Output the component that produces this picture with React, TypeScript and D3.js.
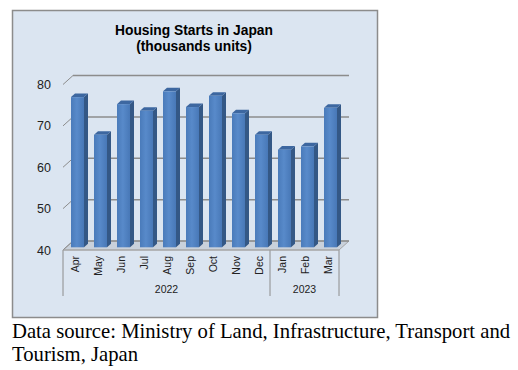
import { useEffect, useRef } from "react"
import * as d3 from "d3"

const months = ["Apr", "May", "Jun", "Jul", "Aug", "Sep", "Oct", "Nov", "Dec", "Jan", "Feb", "Mar"]
const values = [76.3, 67.2, 74.6, 73.0, 77.7, 73.9, 76.6, 72.4, 67.2, 63.6, 64.4, 73.7]
const years = [
  { label: "2022", from: "Apr", to: "Dec" },
  { label: "2023", from: "Jan", to: "Mar" },
]
const yTicks = [40, 50, 60, 70, 80]
const title = ["Housing Starts in Japan", "(thousands units)"]
const caption = ["Data source: Ministry of Land, Infrastructure, Transport and", "Tourism, Japan"]

export default function App() {
  const svgRef = useRef<SVGSVGElement>(null)

  useEffect(() => {
    if (!svgRef.current) return
    const svg = d3.select(svgRef.current)
    svg.selectAll("*").remove()

    const DX = 10
    const DY = -9
    const frontT = 0.3
    const backT = 0.7

    // frame
    svg.append("rect")
      .attr("x", 12.5).attr("y", 10.5)
      .attr("width", 365).attr("height", 307)
      .attr("fill", "#dbe5f1")
      .attr("stroke", "#8c8c8c")
      .attr("stroke-width", 1.5)

    // title
    svg.append("text")
      .attr("x", 194).attr("y", 35)
      .attr("text-anchor", "middle")
      .attr("font-family", "Arial, 'Liberation Sans', sans-serif")
      .attr("font-weight", "bold")
      .attr("font-size", 13.8)
      .selectAll("tspan")
      .data(title)
      .join("tspan")
      .attr("x", 194)
      .attr("dy", (_d, i) => (i === 0 ? 0 : 16))
      .text(d => d)

    const x = d3.scaleBand<string>().domain(months).range([63, 339])
    const y = d3.scaleLinear().domain([40, 80]).range([250, 84.5])
    const bw = x.bandwidth() * 13 / 23
    const off = (x.bandwidth() - bw) / 2

    // floor
    const fy = y(40)
    svg.append("polygon")
      .attr("points", [[63, fy], [339, fy], [339 + DX, fy + DY], [63 + DX, fy + DY]].map(p => p.join(",")).join(" "))
      .attr("fill", "#c9d1db")
      .attr("stroke", "#a5a5a5")
      .attr("stroke-width", 1)

    // gridlines on back wall + slanted side ticks
    const grid = svg.append("g")
    yTicks.forEach(v => {
      grid.append("line")
        .attr("x1", 63 + DX).attr("x2", 339 + DX)
        .attr("y1", y(v) + DY).attr("y2", y(v) + DY)
        .attr("stroke", "#8c8c8c").attr("stroke-width", 1.5)
      grid.append("line")
        .attr("x1", 63).attr("x2", 63 + DX)
        .attr("y1", y(v)).attr("y2", y(v) + DY)
        .attr("stroke", "#8c8c8c").attr("stroke-width", 1)
      grid.append("text")
        .attr("x", 51).attr("y", y(v) + 4.5)
        .attr("text-anchor", "end")
        .attr("font-family", "Arial, 'Liberation Sans', sans-serif")
        .attr("font-size", 12.5)
        .attr("fill", "#222")
        .text(v)
    })

    // bars
    const defs = svg.append("defs")
    const grad = defs.append("linearGradient").attr("id", "barFront").attr("x1", 0).attr("x2", 1).attr("y1", 0).attr("y2", 0)
    grad.append("stop").attr("offset", "0%").attr("stop-color", "#4a7bba")
    grad.append("stop").attr("offset", "45%").attr("stop-color", "#588aca")
    grad.append("stop").attr("offset", "100%").attr("stop-color", "#4878b7")

    const depth = backT - frontT
    const bars = svg.append("g")
    months.forEach((m, i) => {
      const x0 = (x(m) ?? 0) + off + DX * frontT
      const top = y(values[i]) + DY * frontT
      const bot = y(40) + DY * frontT
      const ddx = DX * depth
      const ddy = DY * depth
      bars.append("polygon")
        .attr("points", [[x0 + bw, top], [x0 + bw + ddx, top + ddy], [x0 + bw + ddx, bot + ddy], [x0 + bw, bot]].map(p => p.join(",")).join(" "))
        .attr("fill", "#345886")
      bars.append("polygon")
        .attr("points", [[x0, top], [x0 + bw, top], [x0 + bw + ddx, top + ddy], [x0 + ddx, top + ddy]].map(p => p.join(",")).join(" "))
        .attr("fill", "#3d67a0")
      bars.append("rect")
        .attr("x", x0).attr("y", top)
        .attr("width", bw).attr("height", bot - top)
        .attr("fill", "url(#barFront)")
    })

    // category axis
    const axis = svg.append("g")
    const sepX = [63, ...years.slice(1).map(yr => x(yr.from) ?? 0), 339]
    sepX.forEach(sx => {
      axis.append("line")
        .attr("x1", sx).attr("x2", sx)
        .attr("y1", 250).attr("y2", 296)
        .attr("stroke", "#8c8c8c").attr("stroke-width", 1)
    })
    axis.append("line")
      .attr("x1", 63).attr("x2", 339)
      .attr("y1", 250).attr("y2", 250)
      .attr("stroke", "#a5a5a5").attr("stroke-width", 1)

    months.forEach(m => {
      const cx = (x(m) ?? 0) + x.bandwidth() / 2
      axis.append("text")
        .attr("transform", `translate(${cx},256) rotate(-90)`)
        .attr("text-anchor", "end")
        .attr("dominant-baseline", "central")
        .attr("font-family", "Arial, 'Liberation Sans', sans-serif")
        .attr("font-size", 10.5)
        .attr("fill", "#222")
        .text(m)
    })
    years.forEach(yr => {
      const a = x(yr.from) ?? 0
      const b = (x(yr.to) ?? 0) + x.bandwidth()
      axis.append("text")
        .attr("x", (a + b) / 2).attr("y", 293)
        .attr("text-anchor", "middle")
        .attr("font-family", "Arial, 'Liberation Sans', sans-serif")
        .attr("font-size", 10.5)
        .attr("fill", "#222")
        .text(yr.label)
    })

    // caption
    svg.append("g")
      .selectAll("text")
      .data(caption)
      .join("text")
      .attr("x", 12)
      .attr("y", (_d, i) => 338 + i * 23)
      .attr("font-family", "'Liberation Serif', 'Times New Roman', serif")
      .attr("font-size", 20.7)
      .attr("fill", "#000")
      .text(d => d)
  }, [])

  return (
    <div style={{ position: "absolute", left: 0, top: 0 }}>
      <svg ref={svgRef} width={518} height={370} style={{ display: "block", background: "#fff" }}></svg>
    </div>
  )
}
